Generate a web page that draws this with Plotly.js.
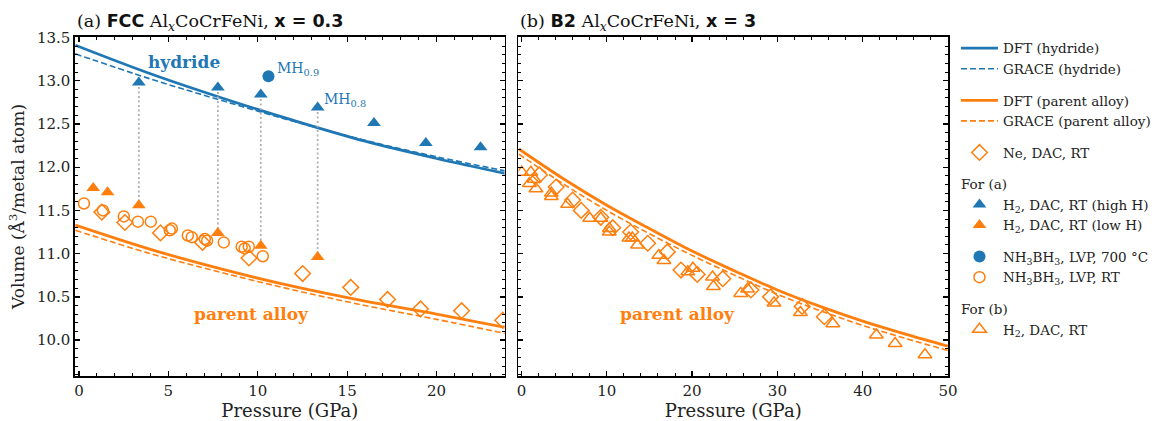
<!DOCTYPE html>
<html>
<head>
<meta charset="utf-8">
<script src="https://cdn.plot.ly/plotly-3.0.1.min.js"></script>
<style>html,body{margin:0;padding:0;background:#fff;}#chart{width:1167px;height:421px;}</style>
</head>
<body>
<div id="chart"></div>
<script>
// ---------- data ----------
// Panel (a): FCC, x = 0.3
const aCurveP      = [-0.2, 4, 8, 12, 16, 20, 24];
const hydDFT       = [13.41, 13.08, 12.80, 12.54, 12.30, 12.10, 11.92];
const hydGRACE     = [13.31, 13.02, 12.77, 12.53, 12.31, 12.12, 11.95];
const parDFT_a     = [11.33, 11.05, 10.82, 10.62, 10.45, 10.30, 10.14];
const parGRACE_a   = [11.27, 11.00, 10.78, 10.58, 10.40, 10.24, 10.07];

const h2HighP = [3.35, 7.77, 10.17, 13.35, 16.5, 19.4, 22.46];
const h2HighV = [12.98, 12.92, 12.84, 12.69, 12.51, 12.28, 12.23];
const h2LowP  = [0.8, 1.6, 3.35, 7.77, 10.17, 13.35];
const h2LowV  = [11.76, 11.71, 11.56, 11.24, 11.09, 10.96];

const lvp700P = [10.6];
const lvp700V = [13.05];
const lvpRTP  = [0.28, 1.34, 2.51, 3.30, 4.02, 5.08, 5.2, 6.09, 6.31, 7.04, 7.17, 8.1, 9.1, 9.27, 9.5, 10.28];
const lvpRTV  = [11.58, 11.50, 11.43, 11.37, 11.37, 11.27, 11.29, 11.21, 11.19, 11.17, 11.15, 11.13, 11.08, 11.06, 11.08, 10.97];

const neAP = [1.28, 2.57, 4.56, 6.91, 9.51, 12.51, 15.2, 17.26, 19.1, 21.4, 23.7];
const neAV = [11.48, 11.36, 11.24, 11.13, 10.95, 10.77, 10.61, 10.47, 10.36, 10.34, 10.23];

// Panel (b): B2, x = 3
const bCurveP    = [-0.3, 5, 10, 15, 20, 25, 30, 35, 40, 45, 50];
const parDFT_b   = [12.21, 11.86, 11.56, 11.29, 11.03, 10.80, 10.58, 10.39, 10.22, 10.07, 9.93];
const parGRACE_b = [12.15, 11.80, 11.50, 11.23, 10.98, 10.75, 10.53, 10.34, 10.17, 10.02, 9.88];

const neBP = [2.1, 4.06, 6.0, 7.0, 9.3, 10.7, 12.8, 14.8, 17.1, 18.7, 20.6, 23.6, 26.9, 29.2, 32.9, 35.5];
const neBV = [11.91, 11.77, 11.62, 11.50, 11.42, 11.30, 11.25, 11.12, 11.02, 10.81, 10.76, 10.71, 10.58, 10.50, 10.39, 10.27];

const h2BP = [0.04, 1.1, 0.94, 1.5, 1.7, 3.5, 3.5, 5.4, 8.0, 9.3, 10.3, 10.3, 12.6, 13.0, 13.6, 16.1, 16.7, 19.5, 20.1, 22.4, 22.5, 25.7, 26.5, 29.6, 32.7, 36.5, 41.6, 43.8, 47.3];
const h2BV = [11.94, 11.94, 11.81, 11.86, 11.75, 11.70, 11.66, 11.57, 11.41, 11.41, 11.29, 11.25, 11.18, 11.18, 11.10, 10.98, 10.92, 10.79, 10.83, 10.73, 10.62, 10.54, 10.59, 10.43, 10.32, 10.19, 10.06, 9.96, 9.83];

// ---------- styling ----------
const BLUE = '#1f77b4', ORANGE = '#ff7f0e';
const SERIF = 'DejaVu Serif';

// dotted connectors between paired high-H / low-H points
const dropX = [], dropY = [];
h2HighP.forEach((p, i) => {
  const j = h2LowP.indexOf(p);
  if (j >= 0) { dropX.push(p, p, null); dropY.push(h2HighV[i], h2LowV[j], null); }
});

const traces = [
  {x: aCurveP, y: hydDFT, xaxis:'x', yaxis:'y', mode:'lines', line:{color:BLUE, width:2.8, shape:'spline'}, name:'DFT (hydride)', legendgroup:'g1'},
  {x: aCurveP, y: hydGRACE, xaxis:'x', yaxis:'y', mode:'lines', line:{color:BLUE, width:1.6, dash:'6px,3px', shape:'spline'}, name:'GRACE (hydride)', legendgroup:'g1'},
  {x: aCurveP, y: parDFT_a, xaxis:'x', yaxis:'y', mode:'lines', line:{color:ORANGE, width:2.8, shape:'spline'}, name:'DFT (parent alloy)', legendgroup:'g2'},
  {x: aCurveP, y: parGRACE_a, xaxis:'x', yaxis:'y', mode:'lines', line:{color:ORANGE, width:1.6, dash:'6px,3px', shape:'spline'}, name:'GRACE (parent alloy)', legendgroup:'g2'},
  {x: bCurveP, y: parDFT_b, xaxis:'x2', yaxis:'y2', mode:'lines', line:{color:ORANGE, width:2.8, shape:'spline'}, showlegend:false, legendgroup:'g2'},
  {x: bCurveP, y: parGRACE_b, xaxis:'x2', yaxis:'y2', mode:'lines', line:{color:ORANGE, width:1.6, dash:'6px,3px', shape:'spline'}, showlegend:false, legendgroup:'g2'},
  {x: dropX, y: dropY, xaxis:'x', yaxis:'y', mode:'lines', line:{color:'#b0b0b0', width:1.8, dash:'2px,2.5px'}, showlegend:false, hoverinfo:'skip'},
  {x: neAP, y: neAV, xaxis:'x', yaxis:'y', mode:'markers', marker:{symbol:'diamond-open', size:12, color:ORANGE, line:{width:1.5}}, name:'Ne, DAC, RT', legendgroup:'g3'},
  {x: neBP, y: neBV, xaxis:'x2', yaxis:'y2', mode:'markers', marker:{symbol:'diamond-open', size:12, color:ORANGE, line:{width:1.5}}, showlegend:false, legendgroup:'g3'},
  {x: h2HighP, y: h2HighV, xaxis:'x', yaxis:'y', mode:'markers', marker:{symbol:'triangle-up', size:12, color:BLUE}, name:'H<sub>2</sub>, DAC, RT (high H)', legendgroup:'g4', legendgrouptitle:{text:'For (a)'}},
  {x: h2LowP, y: h2LowV, xaxis:'x', yaxis:'y', mode:'markers', marker:{symbol:'triangle-up', size:12, color:ORANGE}, name:'H<sub>2</sub>, DAC, RT (low H)', legendgroup:'g4'},
  {x: lvp700P, y: lvp700V, xaxis:'x', yaxis:'y', mode:'markers', marker:{symbol:'circle', size:12, color:BLUE}, name:'NH<sub>3</sub>BH<sub>3</sub>, LVP, 700 °C', legendgroup:'g5'},
  {x: lvpRTP, y: lvpRTV, xaxis:'x', yaxis:'y', mode:'markers', marker:{symbol:'circle-open', size:11, color:ORANGE, line:{width:1.5}}, name:'NH<sub>3</sub>BH<sub>3</sub>, LVP, RT', legendgroup:'g5'},
  {x: h2BP, y: h2BV, xaxis:'x2', yaxis:'y2', mode:'markers', marker:{symbol:'triangle-up-open', size:12, color:ORANGE, line:{width:1.5}}, name:'H<sub>2</sub>, DAC, RT', legendgroup:'g6', legendgrouptitle:{text:'For (b)'}}
];

const axisCommon = {
  showline:true, linecolor:'#000', linewidth:1.6, mirror:'allticks',
  ticks:'inside', ticklen:5, tickwidth:1.3, tickcolor:'#000',
  showgrid:false, zeroline:false,
  tickfont:{family:SERIF, size:15, color:'#222'}
};
const YR = [9.585, 13.505];

const sansB = (t) => '<span style="font-family:DejaVu Sans"><b>' + t + '</b></span>';

const layout = {
  width:1167, height:421,
  margin:{l:75, r:218, t:37, b:45},
  paper_bgcolor:'#fff', plot_bgcolor:'#fff',
  font:{family:SERIF, size:13, color:'#222'},
  showlegend:true,
  legend:{x:1.008, y:1.012, xanchor:'left', yanchor:'top', traceorder:'grouped', tracegroupgap:11,
          maxheight:390,
          font:{family:SERIF, size:13.5, color:'#222'}, itemwidth:37, bgcolor:'rgba(0,0,0,0)',
          grouptitlefont:{family:SERIF, size:13.5, color:'#222'}},
  xaxis: Object.assign({}, axisCommon, {domain:[0, 0.492], range:[-0.22, 23.8], dtick:5, tick0:0,
          minor:{dtick:1, ticks:'inside', ticklen:3, tickwidth:1, tickcolor:'#000'},
          title:{text:'Pressure (GPa)', font:{family:SERIF, size:18, color:'#222'}, standoff:5}, anchor:'y'}),
  yaxis: Object.assign({}, axisCommon, {domain:[0,1], range:YR, dtick:0.5, tick0:10, tickformat:'.1f',
          minor:{dtick:0.1, ticks:'inside', ticklen:3, tickwidth:1, tickcolor:'#000'},
          title:{text:'Volume (Å<sup>3</sup>/metal atom)', font:{family:SERIF, size:17, color:'#222'}, standoff:8}, anchor:'x'}),
  xaxis2: Object.assign({}, axisCommon, {domain:[0.508, 1], range:[-0.35, 50], dtick:10, tick0:0,
          minor:{dtick:2, ticks:'inside', ticklen:3, tickwidth:1, tickcolor:'#000'},
          title:{text:'Pressure (GPa)', font:{family:SERIF, size:18, color:'#222'}, standoff:5}, anchor:'y2'}),
  yaxis2: Object.assign({}, axisCommon, {domain:[0,1], range:YR, dtick:0.5, tick0:10, showticklabels:false,
          minor:{dtick:0.1, ticks:'inside', ticklen:3, tickwidth:1, tickcolor:'#000'}, anchor:'x2'}),
  annotations:[
    {xref:'x domain', yref:'y domain', x:0, y:1, xanchor:'left', yanchor:'bottom', yshift:1, showarrow:false,
     text:'(a) ' + sansB('FCC') + ' Al<sub><i>x</i></sub>CoCrFeNi, ' + sansB('x = 0.3'), font:{family:SERIF, size:17.5, color:'#111'}},
    {xref:'x2 domain', yref:'y2 domain', x:0, y:1, xanchor:'left', yanchor:'bottom', yshift:1, showarrow:false,
     text:'(b) ' + sansB('B2') + ' Al<sub><i>x</i></sub>CoCrFeNi, ' + sansB('x = 3'), font:{family:SERIF, size:17.5, color:'#111'}},
    {xref:'x', yref:'y', x:5.87, y:13.22, showarrow:false, text:'<b>hydride</b>', font:{family:SERIF, size:17, color:BLUE}},
    {xref:'x', yref:'y', x:9.67, y:10.30, showarrow:false, text:'<b>parent alloy</b>', font:{family:SERIF, size:17, color:ORANGE}},
    {xref:'x2', yref:'y2', x:18.3, y:10.30, showarrow:false, text:'<b>parent alloy</b>', font:{family:SERIF, size:17, color:ORANGE}},
    {xref:'x', yref:'y', x:10.95, y:13.14, xanchor:'left', showarrow:false, text:'MH<sub>0.9</sub>', font:{family:SERIF, size:14, color:BLUE}},
    {xref:'x', yref:'y', x:13.58, y:12.78, xanchor:'left', showarrow:false, text:'MH<sub>0.8</sub>', font:{family:SERIF, size:14, color:BLUE}}
  ]
};

Plotly.newPlot('chart', traces, layout, {displayModeBar:false, staticPlot:true});
</script>
</body>
</html>
